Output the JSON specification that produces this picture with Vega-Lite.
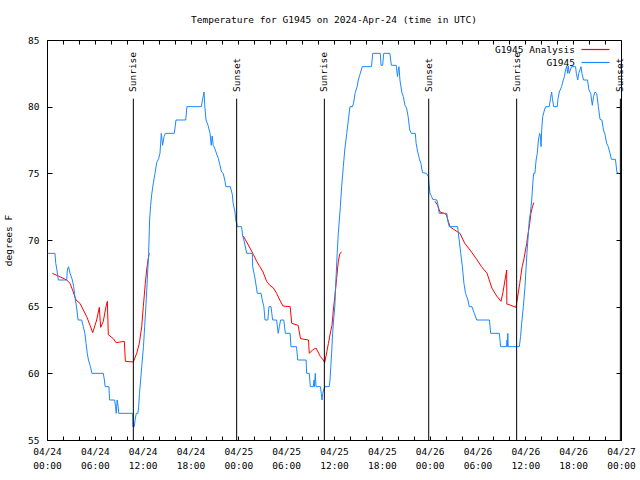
{
  "$schema": "https://vega.github.io/schema/vega-lite/v6.json",
  "width": 574,
  "height": 400,
  "autosize": {"type": "none"},
  "padding": {"left": 47, "top": 40, "right": 19, "bottom": 40},
  "background": "white",
  "title": {"text": "Temperature for G1945 on 2024-Apr-24 (time in UTC)", "font": "DejaVu Sans Mono", "fontSize": 9.5, "fontWeight": "normal", "color": "black", "anchor": "middle", "offset": 11},
  "config": {
    "view": {"stroke": "black", "strokeWidth": 1},
    "font": "DejaVu Sans Mono",
    "axis": {"labelFont": "DejaVu Sans Mono", "labelFontSize": 9.5, "labelColor": "black", "tickColor": "black", "domain": false, "grid": false, "titleFont": "DejaVu Sans Mono", "titleFontSize": 9.5, "titleFontWeight": "normal", "titleColor": "black"}
  },
  "datasets": {
    "temps": [
      {"hour":0.67,"tempF":67.5,"series":"G1945 Analysis","seg":"a1"},
      {"hour":1.42,"tempF":67.3,"series":"G1945 Analysis","seg":"a1"},
      {"hour":2.47,"tempF":67.0,"series":"G1945 Analysis","seg":"a1"},
      {"hour":2.89,"tempF":66.75,"series":"G1945 Analysis","seg":"a1"},
      {"hour":3.3,"tempF":66.1,"series":"G1945 Analysis","seg":"a1"},
      {"hour":3.64,"tempF":65.5,"series":"G1945 Analysis","seg":"a1"},
      {"hour":4.14,"tempF":65.25,"series":"G1945 Analysis","seg":"a1"},
      {"hour":4.98,"tempF":64.25,"series":"G1945 Analysis","seg":"a1"},
      {"hour":5.4,"tempF":63.6,"series":"G1945 Analysis","seg":"a1"},
      {"hour":5.73,"tempF":63.05,"series":"G1945 Analysis","seg":"a1"},
      {"hour":6.23,"tempF":64.0,"series":"G1945 Analysis","seg":"a1"},
      {"hour":6.56,"tempF":64.95,"series":"G1945 Analysis","seg":"a1"},
      {"hour":6.73,"tempF":63.45,"series":"G1945 Analysis","seg":"a1"},
      {"hour":7.06,"tempF":63.9,"series":"G1945 Analysis","seg":"a1"},
      {"hour":7.4,"tempF":65.0,"series":"G1945 Analysis","seg":"a1"},
      {"hour":7.57,"tempF":65.4,"series":"G1945 Analysis","seg":"a1"},
      {"hour":7.69,"tempF":62.9,"series":"G1945 Analysis","seg":"a1"},
      {"hour":8.32,"tempF":62.6,"series":"G1945 Analysis","seg":"a1"},
      {"hour":8.66,"tempF":62.3,"series":"G1945 Analysis","seg":"a1"},
      {"hour":9.7,"tempF":62.4,"series":"G1945 Analysis","seg":"a1"},
      {"hour":9.83,"tempF":60.9,"series":"G1945 Analysis","seg":"a1"},
      {"hour":10.83,"tempF":60.85,"series":"G1945 Analysis","seg":"a1"},
      {"hour":11.25,"tempF":61.5,"series":"G1945 Analysis","seg":"a1"},
      {"hour":11.58,"tempF":62.25,"series":"G1945 Analysis","seg":"a1"},
      {"hour":11.88,"tempF":63.5,"series":"G1945 Analysis","seg":"a1"},
      {"hour":12.08,"tempF":65.0,"series":"G1945 Analysis","seg":"a1"},
      {"hour":12.33,"tempF":66.75,"series":"G1945 Analysis","seg":"a1"},
      {"hour":12.5,"tempF":67.75,"series":"G1945 Analysis","seg":"a1"},
      {"hour":12.67,"tempF":68.5,"series":"G1945 Analysis","seg":"a1"},
      {"hour":12.83,"tempF":69.0,"series":"G1945 Analysis","seg":"a1"},
      {"hour":24.63,"tempF":70.3,"series":"G1945 Analysis","seg":"a2"},
      {"hour":24.9,"tempF":70.0,"series":"G1945 Analysis","seg":"a2"},
      {"hour":25.46,"tempF":69.4,"series":"G1945 Analysis","seg":"a2"},
      {"hour":25.9,"tempF":68.9,"series":"G1945 Analysis","seg":"a2"},
      {"hour":26.3,"tempF":68.4,"series":"G1945 Analysis","seg":"a2"},
      {"hour":26.7,"tempF":68.0,"series":"G1945 Analysis","seg":"a2"},
      {"hour":27.1,"tempF":67.6,"series":"G1945 Analysis","seg":"a2"},
      {"hour":27.55,"tempF":66.9,"series":"G1945 Analysis","seg":"a2"},
      {"hour":27.95,"tempF":66.6,"series":"G1945 Analysis","seg":"a2"},
      {"hour":28.4,"tempF":66.4,"series":"G1945 Analysis","seg":"a2"},
      {"hour":28.8,"tempF":66.0,"series":"G1945 Analysis","seg":"a2"},
      {"hour":29.2,"tempF":65.5,"series":"G1945 Analysis","seg":"a2"},
      {"hour":29.6,"tempF":65.05,"series":"G1945 Analysis","seg":"a2"},
      {"hour":30.5,"tempF":65.0,"series":"G1945 Analysis","seg":"a2"},
      {"hour":30.7,"tempF":63.75,"series":"G1945 Analysis","seg":"a2"},
      {"hour":31.5,"tempF":63.6,"series":"G1945 Analysis","seg":"a2"},
      {"hour":31.8,"tempF":62.6,"series":"G1945 Analysis","seg":"a2"},
      {"hour":32.8,"tempF":62.5,"series":"G1945 Analysis","seg":"a2"},
      {"hour":32.9,"tempF":61.5,"series":"G1945 Analysis","seg":"a2"},
      {"hour":33.3,"tempF":61.75,"series":"G1945 Analysis","seg":"a2"},
      {"hour":33.74,"tempF":61.9,"series":"G1945 Analysis","seg":"a2"},
      {"hour":34.0,"tempF":61.6,"series":"G1945 Analysis","seg":"a2"},
      {"hour":34.3,"tempF":61.25,"series":"G1945 Analysis","seg":"a2"},
      {"hour":34.66,"tempF":61.0,"series":"G1945 Analysis","seg":"a2"},
      {"hour":34.83,"tempF":60.8,"series":"G1945 Analysis","seg":"a2"},
      {"hour":35.0,"tempF":61.3,"series":"G1945 Analysis","seg":"a2"},
      {"hour":35.3,"tempF":62.25,"series":"G1945 Analysis","seg":"a2"},
      {"hour":35.6,"tempF":63.2,"series":"G1945 Analysis","seg":"a2"},
      {"hour":35.75,"tempF":63.6,"series":"G1945 Analysis","seg":"a2"},
      {"hour":35.92,"tempF":64.75,"series":"G1945 Analysis","seg":"a2"},
      {"hour":36.1,"tempF":65.75,"series":"G1945 Analysis","seg":"a2"},
      {"hour":36.33,"tempF":67.1,"series":"G1945 Analysis","seg":"a2"},
      {"hour":36.54,"tempF":68.4,"series":"G1945 Analysis","seg":"a2"},
      {"hour":36.75,"tempF":69.0,"series":"G1945 Analysis","seg":"a2"},
      {"hour":36.96,"tempF":69.1,"series":"G1945 Analysis","seg":"a2"},
      {"hour":48.67,"tempF":72.9,"series":"G1945 Analysis","seg":"a3"},
      {"hour":49.0,"tempF":72.6,"series":"G1945 Analysis","seg":"a3"},
      {"hour":49.3,"tempF":72.1,"series":"G1945 Analysis","seg":"a3"},
      {"hour":49.8,"tempF":72.0,"series":"G1945 Analysis","seg":"a3"},
      {"hour":50.1,"tempF":71.9,"series":"G1945 Analysis","seg":"a3"},
      {"hour":50.34,"tempF":71.4,"series":"G1945 Analysis","seg":"a3"},
      {"hour":50.55,"tempF":71.0,"series":"G1945 Analysis","seg":"a3"},
      {"hour":51.0,"tempF":70.8,"series":"G1945 Analysis","seg":"a3"},
      {"hour":51.8,"tempF":70.5,"series":"G1945 Analysis","seg":"a3"},
      {"hour":52.4,"tempF":69.75,"series":"G1945 Analysis","seg":"a3"},
      {"hour":53.06,"tempF":69.25,"series":"G1945 Analysis","seg":"a3"},
      {"hour":53.9,"tempF":68.55,"series":"G1945 Analysis","seg":"a3"},
      {"hour":54.5,"tempF":68.0,"series":"G1945 Analysis","seg":"a3"},
      {"hour":55.2,"tempF":67.5,"series":"G1945 Analysis","seg":"a3"},
      {"hour":55.8,"tempF":66.4,"series":"G1945 Analysis","seg":"a3"},
      {"hour":56.4,"tempF":65.8,"series":"G1945 Analysis","seg":"a3"},
      {"hour":56.95,"tempF":65.4,"series":"G1945 Analysis","seg":"a3"},
      {"hour":57.2,"tempF":66.1,"series":"G1945 Analysis","seg":"a3"},
      {"hour":57.45,"tempF":67.0,"series":"G1945 Analysis","seg":"a3"},
      {"hour":57.66,"tempF":67.75,"series":"G1945 Analysis","seg":"a3"},
      {"hour":57.68,"tempF":65.2,"series":"G1945 Analysis","seg":"a3"},
      {"hour":58.2,"tempF":65.1,"series":"G1945 Analysis","seg":"a3"},
      {"hour":58.83,"tempF":64.95,"series":"G1945 Analysis","seg":"a3"},
      {"hour":59.3,"tempF":66.75,"series":"G1945 Analysis","seg":"a3"},
      {"hour":59.6,"tempF":68.0,"series":"G1945 Analysis","seg":"a3"},
      {"hour":59.8,"tempF":68.5,"series":"G1945 Analysis","seg":"a3"},
      {"hour":60.17,"tempF":69.75,"series":"G1945 Analysis","seg":"a3"},
      {"hour":60.35,"tempF":70.5,"series":"G1945 Analysis","seg":"a3"},
      {"hour":60.55,"tempF":71.25,"series":"G1945 Analysis","seg":"a3"},
      {"hour":60.7,"tempF":72.0,"series":"G1945 Analysis","seg":"a3"},
      {"hour":60.9,"tempF":72.5,"series":"G1945 Analysis","seg":"a3"},
      {"hour":61.05,"tempF":72.8,"series":"G1945 Analysis","seg":"a3"},
      {"hour":0.1,"tempF":69,"series":"G1945","seg":"o"},
      {"hour":1.0,"tempF":69,"series":"G1945","seg":"o"},
      {"hour":1.1,"tempF":68.25,"series":"G1945","seg":"o"},
      {"hour":1.25,"tempF":67.75,"series":"G1945","seg":"o"},
      {"hour":1.42,"tempF":67,"series":"G1945","seg":"o"},
      {"hour":2.47,"tempF":67,"series":"G1945","seg":"o"},
      {"hour":2.55,"tempF":67.75,"series":"G1945","seg":"o"},
      {"hour":2.7,"tempF":68,"series":"G1945","seg":"o"},
      {"hour":2.9,"tempF":67.5,"series":"G1945","seg":"o"},
      {"hour":3.18,"tempF":67,"series":"G1945","seg":"o"},
      {"hour":3.35,"tempF":66.5,"series":"G1945","seg":"o"},
      {"hour":3.5,"tempF":65.75,"series":"G1945","seg":"o"},
      {"hour":3.72,"tempF":64.9,"series":"G1945","seg":"o"},
      {"hour":3.9,"tempF":64,"series":"G1945","seg":"o"},
      {"hour":4.35,"tempF":64,"series":"G1945","seg":"o"},
      {"hour":4.55,"tempF":63.5,"series":"G1945","seg":"o"},
      {"hour":4.75,"tempF":63,"series":"G1945","seg":"o"},
      {"hour":4.9,"tempF":62.25,"series":"G1945","seg":"o"},
      {"hour":5.05,"tempF":61.5,"series":"G1945","seg":"o"},
      {"hour":5.2,"tempF":61,"series":"G1945","seg":"o"},
      {"hour":5.45,"tempF":60.5,"series":"G1945","seg":"o"},
      {"hour":5.64,"tempF":60,"series":"G1945","seg":"o"},
      {"hour":7.06,"tempF":60,"series":"G1945","seg":"o"},
      {"hour":7.2,"tempF":59.5,"series":"G1945","seg":"o"},
      {"hour":7.3,"tempF":59,"series":"G1945","seg":"o"},
      {"hour":7.77,"tempF":59,"series":"G1945","seg":"o"},
      {"hour":7.85,"tempF":58,"series":"G1945","seg":"o"},
      {"hour":8.48,"tempF":58,"series":"G1945","seg":"o"},
      {"hour":8.6,"tempF":57.5,"series":"G1945","seg":"o"},
      {"hour":8.68,"tempF":57,"series":"G1945","seg":"o"},
      {"hour":8.8,"tempF":58,"series":"G1945","seg":"o"},
      {"hour":8.93,"tempF":57.5,"series":"G1945","seg":"o"},
      {"hour":9.0,"tempF":57,"series":"G1945","seg":"o"},
      {"hour":10.75,"tempF":57,"series":"G1945","seg":"o"},
      {"hour":10.77,"tempF":56,"series":"G1945","seg":"o"},
      {"hour":10.95,"tempF":56,"series":"G1945","seg":"o"},
      {"hour":11.05,"tempF":56.5,"series":"G1945","seg":"o"},
      {"hour":11.2,"tempF":57,"series":"G1945","seg":"o"},
      {"hour":11.4,"tempF":57,"series":"G1945","seg":"o"},
      {"hour":11.5,"tempF":57.5,"series":"G1945","seg":"o"},
      {"hour":11.6,"tempF":58.5,"series":"G1945","seg":"o"},
      {"hour":11.75,"tempF":59.5,"series":"G1945","seg":"o"},
      {"hour":11.88,"tempF":60.5,"series":"G1945","seg":"o"},
      {"hour":12.1,"tempF":62,"series":"G1945","seg":"o"},
      {"hour":12.25,"tempF":63.5,"series":"G1945","seg":"o"},
      {"hour":12.4,"tempF":65,"series":"G1945","seg":"o"},
      {"hour":12.58,"tempF":67,"series":"G1945","seg":"o"},
      {"hour":12.75,"tempF":69,"series":"G1945","seg":"o"},
      {"hour":12.87,"tempF":71.5,"series":"G1945","seg":"o"},
      {"hour":13.0,"tempF":72.6,"series":"G1945","seg":"o"},
      {"hour":13.13,"tempF":73.4,"series":"G1945","seg":"o"},
      {"hour":13.33,"tempF":74.25,"series":"G1945","seg":"o"},
      {"hour":13.55,"tempF":75,"series":"G1945","seg":"o"},
      {"hour":13.76,"tempF":75.8,"series":"G1945","seg":"o"},
      {"hour":14.0,"tempF":76.1,"series":"G1945","seg":"o"},
      {"hour":14.17,"tempF":76.5,"series":"G1945","seg":"o"},
      {"hour":14.34,"tempF":78,"series":"G1945","seg":"o"},
      {"hour":14.5,"tempF":77.1,"series":"G1945","seg":"o"},
      {"hour":14.68,"tempF":77.75,"series":"G1945","seg":"o"},
      {"hour":14.84,"tempF":78,"series":"G1945","seg":"o"},
      {"hour":15.97,"tempF":78,"series":"G1945","seg":"o"},
      {"hour":16.18,"tempF":79,"series":"G1945","seg":"o"},
      {"hour":17.4,"tempF":79,"series":"G1945","seg":"o"},
      {"hour":17.55,"tempF":80,"series":"G1945","seg":"o"},
      {"hour":19.36,"tempF":80,"series":"G1945","seg":"o"},
      {"hour":19.5,"tempF":80.5,"series":"G1945","seg":"o"},
      {"hour":19.7,"tempF":81.1,"series":"G1945","seg":"o"},
      {"hour":19.8,"tempF":80,"series":"G1945","seg":"o"},
      {"hour":19.95,"tempF":79,"series":"G1945","seg":"o"},
      {"hour":20.2,"tempF":78.6,"series":"G1945","seg":"o"},
      {"hour":20.45,"tempF":78,"series":"G1945","seg":"o"},
      {"hour":20.6,"tempF":77.1,"series":"G1945","seg":"o"},
      {"hour":20.72,"tempF":77.8,"series":"G1945","seg":"o"},
      {"hour":20.85,"tempF":77.1,"series":"G1945","seg":"o"},
      {"hour":20.95,"tempF":77,"series":"G1945","seg":"o"},
      {"hour":21.2,"tempF":76.6,"series":"G1945","seg":"o"},
      {"hour":21.5,"tempF":76.1,"series":"G1945","seg":"o"},
      {"hour":21.7,"tempF":75.6,"series":"G1945","seg":"o"},
      {"hour":21.9,"tempF":75.1,"series":"G1945","seg":"o"},
      {"hour":22.1,"tempF":75,"series":"G1945","seg":"o"},
      {"hour":22.3,"tempF":74.5,"series":"G1945","seg":"o"},
      {"hour":22.44,"tempF":74,"series":"G1945","seg":"o"},
      {"hour":23.0,"tempF":74,"series":"G1945","seg":"o"},
      {"hour":23.25,"tempF":73.4,"series":"G1945","seg":"o"},
      {"hour":23.35,"tempF":72.75,"series":"G1945","seg":"o"},
      {"hour":23.58,"tempF":72.1,"series":"G1945","seg":"o"},
      {"hour":23.7,"tempF":71.4,"series":"G1945","seg":"o"},
      {"hour":23.8,"tempF":71.25,"series":"G1945","seg":"o"},
      {"hour":23.87,"tempF":71,"series":"G1945","seg":"o"},
      {"hour":24.4,"tempF":71,"series":"G1945","seg":"o"},
      {"hour":24.55,"tempF":70.3,"series":"G1945","seg":"o"},
      {"hour":24.7,"tempF":70,"series":"G1945","seg":"o"},
      {"hour":25.05,"tempF":69,"series":"G1945","seg":"o"},
      {"hour":25.75,"tempF":69,"series":"G1945","seg":"o"},
      {"hour":25.8,"tempF":68,"series":"G1945","seg":"o"},
      {"hour":26.1,"tempF":67.1,"series":"G1945","seg":"o"},
      {"hour":26.38,"tempF":66,"series":"G1945","seg":"o"},
      {"hour":26.85,"tempF":66,"series":"G1945","seg":"o"},
      {"hour":27.0,"tempF":65.5,"series":"G1945","seg":"o"},
      {"hour":27.2,"tempF":65,"series":"G1945","seg":"o"},
      {"hour":27.35,"tempF":64,"series":"G1945","seg":"o"},
      {"hour":27.7,"tempF":64,"series":"G1945","seg":"o"},
      {"hour":27.8,"tempF":64.75,"series":"G1945","seg":"o"},
      {"hour":27.85,"tempF":65,"series":"G1945","seg":"o"},
      {"hour":28.1,"tempF":65,"series":"G1945","seg":"o"},
      {"hour":28.2,"tempF":64.5,"series":"G1945","seg":"o"},
      {"hour":28.3,"tempF":64,"series":"G1945","seg":"o"},
      {"hour":28.8,"tempF":64,"series":"G1945","seg":"o"},
      {"hour":29.0,"tempF":63,"series":"G1945","seg":"o"},
      {"hour":29.15,"tempF":63.5,"series":"G1945","seg":"o"},
      {"hour":29.3,"tempF":64,"series":"G1945","seg":"o"},
      {"hour":29.7,"tempF":64,"series":"G1945","seg":"o"},
      {"hour":29.9,"tempF":63,"series":"G1945","seg":"o"},
      {"hour":30.5,"tempF":63,"series":"G1945","seg":"o"},
      {"hour":30.6,"tempF":62,"series":"G1945","seg":"o"},
      {"hour":31.3,"tempF":62,"series":"G1945","seg":"o"},
      {"hour":31.45,"tempF":61,"series":"G1945","seg":"o"},
      {"hour":32.5,"tempF":61,"series":"G1945","seg":"o"},
      {"hour":32.57,"tempF":60,"series":"G1945","seg":"o"},
      {"hour":32.9,"tempF":60,"series":"G1945","seg":"o"},
      {"hour":33.03,"tempF":59,"series":"G1945","seg":"o"},
      {"hour":33.4,"tempF":59,"series":"G1945","seg":"o"},
      {"hour":33.5,"tempF":59.5,"series":"G1945","seg":"o"},
      {"hour":33.55,"tempF":59,"series":"G1945","seg":"o"},
      {"hour":33.65,"tempF":60,"series":"G1945","seg":"o"},
      {"hour":33.75,"tempF":59,"series":"G1945","seg":"o"},
      {"hour":34.3,"tempF":59,"series":"G1945","seg":"o"},
      {"hour":34.4,"tempF":58.5,"series":"G1945","seg":"o"},
      {"hour":34.5,"tempF":58,"series":"G1945","seg":"o"},
      {"hour":34.58,"tempF":58.5,"series":"G1945","seg":"o"},
      {"hour":34.7,"tempF":58.75,"series":"G1945","seg":"o"},
      {"hour":34.87,"tempF":59,"series":"G1945","seg":"o"},
      {"hour":35.4,"tempF":59,"series":"G1945","seg":"o"},
      {"hour":35.5,"tempF":59.5,"series":"G1945","seg":"o"},
      {"hour":35.6,"tempF":60.5,"series":"G1945","seg":"o"},
      {"hour":35.7,"tempF":61.5,"series":"G1945","seg":"o"},
      {"hour":35.83,"tempF":63,"series":"G1945","seg":"o"},
      {"hour":35.95,"tempF":64,"series":"G1945","seg":"o"},
      {"hour":36.1,"tempF":65,"series":"G1945","seg":"o"},
      {"hour":36.2,"tempF":66.5,"series":"G1945","seg":"o"},
      {"hour":36.3,"tempF":67.75,"series":"G1945","seg":"o"},
      {"hour":36.4,"tempF":69,"series":"G1945","seg":"o"},
      {"hour":36.54,"tempF":70.5,"series":"G1945","seg":"o"},
      {"hour":36.67,"tempF":71.5,"series":"G1945","seg":"o"},
      {"hour":36.8,"tempF":72.5,"series":"G1945","seg":"o"},
      {"hour":36.96,"tempF":74,"series":"G1945","seg":"o"},
      {"hour":37.17,"tempF":75.5,"series":"G1945","seg":"o"},
      {"hour":37.35,"tempF":76.75,"series":"G1945","seg":"o"},
      {"hour":37.6,"tempF":78,"series":"G1945","seg":"o"},
      {"hour":37.8,"tempF":79,"series":"G1945","seg":"o"},
      {"hour":38.0,"tempF":80,"series":"G1945","seg":"o"},
      {"hour":38.3,"tempF":80,"series":"G1945","seg":"o"},
      {"hour":38.45,"tempF":80.25,"series":"G1945","seg":"o"},
      {"hour":38.64,"tempF":81,"series":"G1945","seg":"o"},
      {"hour":38.9,"tempF":81.5,"series":"G1945","seg":"o"},
      {"hour":39.05,"tempF":82,"series":"G1945","seg":"o"},
      {"hour":39.3,"tempF":82.5,"series":"G1945","seg":"o"},
      {"hour":39.55,"tempF":83,"series":"G1945","seg":"o"},
      {"hour":40.7,"tempF":83,"series":"G1945","seg":"o"},
      {"hour":40.86,"tempF":84,"series":"G1945","seg":"o"},
      {"hour":41.8,"tempF":84,"series":"G1945","seg":"o"},
      {"hour":41.9,"tempF":83.1,"series":"G1945","seg":"o"},
      {"hour":42.1,"tempF":83.1,"series":"G1945","seg":"o"},
      {"hour":42.24,"tempF":84,"series":"G1945","seg":"o"},
      {"hour":43.0,"tempF":84,"series":"G1945","seg":"o"},
      {"hour":43.2,"tempF":83.1,"series":"G1945","seg":"o"},
      {"hour":43.8,"tempF":83.1,"series":"G1945","seg":"o"},
      {"hour":43.9,"tempF":82.6,"series":"G1945","seg":"o"},
      {"hour":43.97,"tempF":82.25,"series":"G1945","seg":"o"},
      {"hour":44.1,"tempF":82.9,"series":"G1945","seg":"o"},
      {"hour":44.15,"tempF":83,"series":"G1945","seg":"o"},
      {"hour":44.27,"tempF":82,"series":"G1945","seg":"o"},
      {"hour":44.5,"tempF":81.1,"series":"G1945","seg":"o"},
      {"hour":44.7,"tempF":80.75,"series":"G1945","seg":"o"},
      {"hour":44.9,"tempF":80.1,"series":"G1945","seg":"o"},
      {"hour":45.1,"tempF":79.9,"series":"G1945","seg":"o"},
      {"hour":45.3,"tempF":79.25,"series":"G1945","seg":"o"},
      {"hour":45.5,"tempF":78.25,"series":"G1945","seg":"o"},
      {"hour":45.7,"tempF":78,"series":"G1945","seg":"o"},
      {"hour":46.2,"tempF":78,"series":"G1945","seg":"o"},
      {"hour":46.3,"tempF":77.25,"series":"G1945","seg":"o"},
      {"hour":46.5,"tempF":76.6,"series":"G1945","seg":"o"},
      {"hour":46.7,"tempF":76.1,"series":"G1945","seg":"o"},
      {"hour":46.9,"tempF":75.75,"series":"G1945","seg":"o"},
      {"hour":47.1,"tempF":75.05,"series":"G1945","seg":"o"},
      {"hour":47.6,"tempF":75,"series":"G1945","seg":"o"},
      {"hour":47.84,"tempF":74.75,"series":"G1945","seg":"o"},
      {"hour":47.9,"tempF":74.25,"series":"G1945","seg":"o"},
      {"hour":48.04,"tempF":73.5,"series":"G1945","seg":"o"},
      {"hour":48.25,"tempF":73.25,"series":"G1945","seg":"o"},
      {"hour":48.38,"tempF":73.05,"series":"G1945","seg":"o"},
      {"hour":48.9,"tempF":73,"series":"G1945","seg":"o"},
      {"hour":49.0,"tempF":72.75,"series":"G1945","seg":"o"},
      {"hour":49.2,"tempF":72,"series":"G1945","seg":"o"},
      {"hour":50.15,"tempF":72,"series":"G1945","seg":"o"},
      {"hour":50.25,"tempF":71.5,"series":"G1945","seg":"o"},
      {"hour":50.46,"tempF":71,"series":"G1945","seg":"o"},
      {"hour":51.5,"tempF":71,"series":"G1945","seg":"o"},
      {"hour":51.7,"tempF":70,"series":"G1945","seg":"o"},
      {"hour":51.9,"tempF":69,"series":"G1945","seg":"o"},
      {"hour":52.1,"tempF":68,"series":"G1945","seg":"o"},
      {"hour":52.3,"tempF":66.75,"series":"G1945","seg":"o"},
      {"hour":52.5,"tempF":66,"series":"G1945","seg":"o"},
      {"hour":52.8,"tempF":65.5,"series":"G1945","seg":"o"},
      {"hour":52.96,"tempF":65,"series":"G1945","seg":"o"},
      {"hour":53.3,"tempF":65,"series":"G1945","seg":"o"},
      {"hour":53.6,"tempF":64.5,"series":"G1945","seg":"o"},
      {"hour":53.9,"tempF":64,"series":"G1945","seg":"o"},
      {"hour":55.5,"tempF":64,"series":"G1945","seg":"o"},
      {"hour":55.65,"tempF":63,"series":"G1945","seg":"o"},
      {"hour":56.74,"tempF":63,"series":"G1945","seg":"o"},
      {"hour":56.9,"tempF":62,"series":"G1945","seg":"o"},
      {"hour":57.65,"tempF":62,"series":"G1945","seg":"o"},
      {"hour":57.7,"tempF":62.5,"series":"G1945","seg":"o"},
      {"hour":57.75,"tempF":62,"series":"G1945","seg":"o"},
      {"hour":57.8,"tempF":63,"series":"G1945","seg":"o"},
      {"hour":57.85,"tempF":62,"series":"G1945","seg":"o"},
      {"hour":59.25,"tempF":62,"series":"G1945","seg":"o"},
      {"hour":59.4,"tempF":62.75,"series":"G1945","seg":"o"},
      {"hour":59.54,"tempF":63.75,"series":"G1945","seg":"o"},
      {"hour":59.75,"tempF":65,"series":"G1945","seg":"o"},
      {"hour":59.96,"tempF":66.5,"series":"G1945","seg":"o"},
      {"hour":60.2,"tempF":69,"series":"G1945","seg":"o"},
      {"hour":60.38,"tempF":70.5,"series":"G1945","seg":"o"},
      {"hour":60.5,"tempF":71.5,"series":"G1945","seg":"o"},
      {"hour":60.63,"tempF":72,"series":"G1945","seg":"o"},
      {"hour":60.8,"tempF":73,"series":"G1945","seg":"o"},
      {"hour":60.97,"tempF":74.5,"series":"G1945","seg":"o"},
      {"hour":61.05,"tempF":75,"series":"G1945","seg":"o"},
      {"hour":61.2,"tempF":75,"series":"G1945","seg":"o"},
      {"hour":61.35,"tempF":76,"series":"G1945","seg":"o"},
      {"hour":61.5,"tempF":76.5,"series":"G1945","seg":"o"},
      {"hour":61.64,"tempF":77.5,"series":"G1945","seg":"o"},
      {"hour":61.8,"tempF":78,"series":"G1945","seg":"o"},
      {"hour":61.9,"tempF":77.75,"series":"G1945","seg":"o"},
      {"hour":61.97,"tempF":77,"series":"G1945","seg":"o"},
      {"hour":62.05,"tempF":78.25,"series":"G1945","seg":"o"},
      {"hour":62.18,"tempF":79.25,"series":"G1945","seg":"o"},
      {"hour":62.4,"tempF":79.75,"series":"G1945","seg":"o"},
      {"hour":62.55,"tempF":80,"series":"G1945","seg":"o"},
      {"hour":63.0,"tempF":80,"series":"G1945","seg":"o"},
      {"hour":63.15,"tempF":80.6,"series":"G1945","seg":"o"},
      {"hour":63.3,"tempF":81.1,"series":"G1945","seg":"o"},
      {"hour":63.4,"tempF":80.6,"series":"G1945","seg":"o"},
      {"hour":63.55,"tempF":80,"series":"G1945","seg":"o"},
      {"hour":64.0,"tempF":80,"series":"G1945","seg":"o"},
      {"hour":64.1,"tempF":80.6,"series":"G1945","seg":"o"},
      {"hour":64.26,"tempF":81.1,"series":"G1945","seg":"o"},
      {"hour":64.55,"tempF":81.5,"series":"G1945","seg":"o"},
      {"hour":64.76,"tempF":82,"series":"G1945","seg":"o"},
      {"hour":64.9,"tempF":82.25,"series":"G1945","seg":"o"},
      {"hour":65.05,"tempF":82.75,"series":"G1945","seg":"o"},
      {"hour":65.2,"tempF":83.05,"series":"G1945","seg":"o"},
      {"hour":65.3,"tempF":82.5,"series":"G1945","seg":"o"},
      {"hour":65.4,"tempF":83.05,"series":"G1945","seg":"o"},
      {"hour":65.5,"tempF":82.5,"series":"G1945","seg":"o"},
      {"hour":65.65,"tempF":82.75,"series":"G1945","seg":"o"},
      {"hour":65.8,"tempF":83,"series":"G1945","seg":"o"},
      {"hour":66.3,"tempF":83,"series":"G1945","seg":"o"},
      {"hour":66.4,"tempF":82.5,"series":"G1945","seg":"o"},
      {"hour":66.57,"tempF":82,"series":"G1945","seg":"o"},
      {"hour":66.7,"tempF":82.5,"series":"G1945","seg":"o"},
      {"hour":66.99,"tempF":83,"series":"G1945","seg":"o"},
      {"hour":67.1,"tempF":82.5,"series":"G1945","seg":"o"},
      {"hour":67.3,"tempF":82,"series":"G1945","seg":"o"},
      {"hour":67.8,"tempF":82,"series":"G1945","seg":"o"},
      {"hour":67.98,"tempF":81.25,"series":"G1945","seg":"o"},
      {"hour":68.2,"tempF":81,"series":"G1945","seg":"o"},
      {"hour":68.4,"tempF":80.1,"series":"G1945","seg":"o"},
      {"hour":68.55,"tempF":80.75,"series":"G1945","seg":"o"},
      {"hour":68.74,"tempF":81.1,"series":"G1945","seg":"o"},
      {"hour":68.95,"tempF":81,"series":"G1945","seg":"o"},
      {"hour":69.16,"tempF":80,"series":"G1945","seg":"o"},
      {"hour":69.37,"tempF":79.05,"series":"G1945","seg":"o"},
      {"hour":69.6,"tempF":79,"series":"G1945","seg":"o"},
      {"hour":69.8,"tempF":78.25,"series":"G1945","seg":"o"},
      {"hour":70.0,"tempF":77.9,"series":"G1945","seg":"o"},
      {"hour":70.2,"tempF":77.25,"series":"G1945","seg":"o"},
      {"hour":70.4,"tempF":77,"series":"G1945","seg":"o"},
      {"hour":70.6,"tempF":76.55,"series":"G1945","seg":"o"},
      {"hour":70.8,"tempF":76.05,"series":"G1945","seg":"o"},
      {"hour":71.3,"tempF":76.05,"series":"G1945","seg":"o"},
      {"hour":71.5,"tempF":75.05,"series":"G1945","seg":"o"},
      {"hour":71.75,"tempF":75,"series":"G1945","seg":"o"}
    ],
    "sun": [
      {"hour":10.83,"event":"Sunrise"},
      {"hour":23.79,"event":"Sunset"},
      {"hour":34.79,"event":"Sunrise"},
      {"hour":47.88,"event":"Sunset"},
      {"hour":58.91,"event":"Sunrise"},
      {"hour":71.92,"event":"Sunset"}
    ]
  },
  "layer": [
    {
      "data": {"name": "temps"},
      "mark": {"type": "line", "strokeWidth": 1},
      "encoding": {
        "x": {"field": "hour", "type": "quantitative", "scale": {"domain": [0, 72], "nice": false, "zero": false},
          "axis": {"orient": "bottom", "title": null, "values": [0,2,4,6,8,10,12,14,16,18,20,22,24,26,28,30,32,34,36,38,40,42,44,46,48,50,52,54,56,58,60,62,64,66,68,70,72],
            "labelExpr": "datum.value % 6 == 0 ? ['04/' + (24 + floor(datum.value / 24)), (datum.value % 24 < 10 ? '0' : '') + (datum.value % 24) + ':00'] : ''",
            "tickSize": -4, "labelPadding": 10, "labelLineHeight": 14, "labelFlush": false, "labelOverlap": false, "labelBaseline": "top"}},
        "y": {"field": "tempF", "type": "quantitative", "scale": {"domain": [55, 85], "nice": false, "zero": false},
          "axis": {"orient": "left", "title": "degrees F", "values": [55,60,65,70,75,80,85], "tickSize": -5, "labelPadding": 13, "titlePadding": 14}},
        "color": {"field": "series", "type": "nominal", "scale": {"domain": ["G1945 Analysis", "G1945"], "range": ["#ff0000", "#1a88ff"]},
          "legend": {"orient": "none", "legendX": 542, "legendY": 3, "title": null, "symbolType": "M-2.5,0H2.5", "symbolSize": 125, "symbolStrokeWidth": 1.2, "labelFont": "DejaVu Sans Mono", "labelFontSize": 9.5, "labelColor": "black", "labelAlign": "right", "labelOffset": -27, "rowPadding": 2, "padding": 0}},
        "detail": {"field": "seg"}
      }
    },
    {
      "data": {"name": "sun"},
      "mark": {"type": "rule", "color": "black", "strokeWidth": 1},
      "encoding": {
        "x": {"field": "hour", "type": "quantitative", "axis": {"orient": "top", "title": null, "labels": false, "values": [0,2,4,6,8,10,12,14,16,18,20,22,24,26,28,30,32,34,36,38,40,42,44,46,48,50,52,54,56,58,60,62,64,66,68,70,72], "tickSize": -4}},
        "y": {"datum": 55, "axis": {"orient": "right", "title": null, "labels": false, "values": [55,60,65,70,75,80,85], "tickSize": -5}},
        "y2": {"datum": 80.6}
      }
    },
    {
      "data": {"name": "sun"},
      "mark": {"type": "text", "angle": 270, "align": "left", "baseline": "middle", "font": "DejaVu Sans Mono", "fontSize": 9.5, "color": "black"},
      "encoding": {
        "x": {"field": "hour", "type": "quantitative", "axis": null},
        "y": {"datum": 81.1, "axis": null},
        "text": {"field": "event"}
      }
    }
  ],
  "resolve": {"axis": {"x": "independent", "y": "independent"}}
}
